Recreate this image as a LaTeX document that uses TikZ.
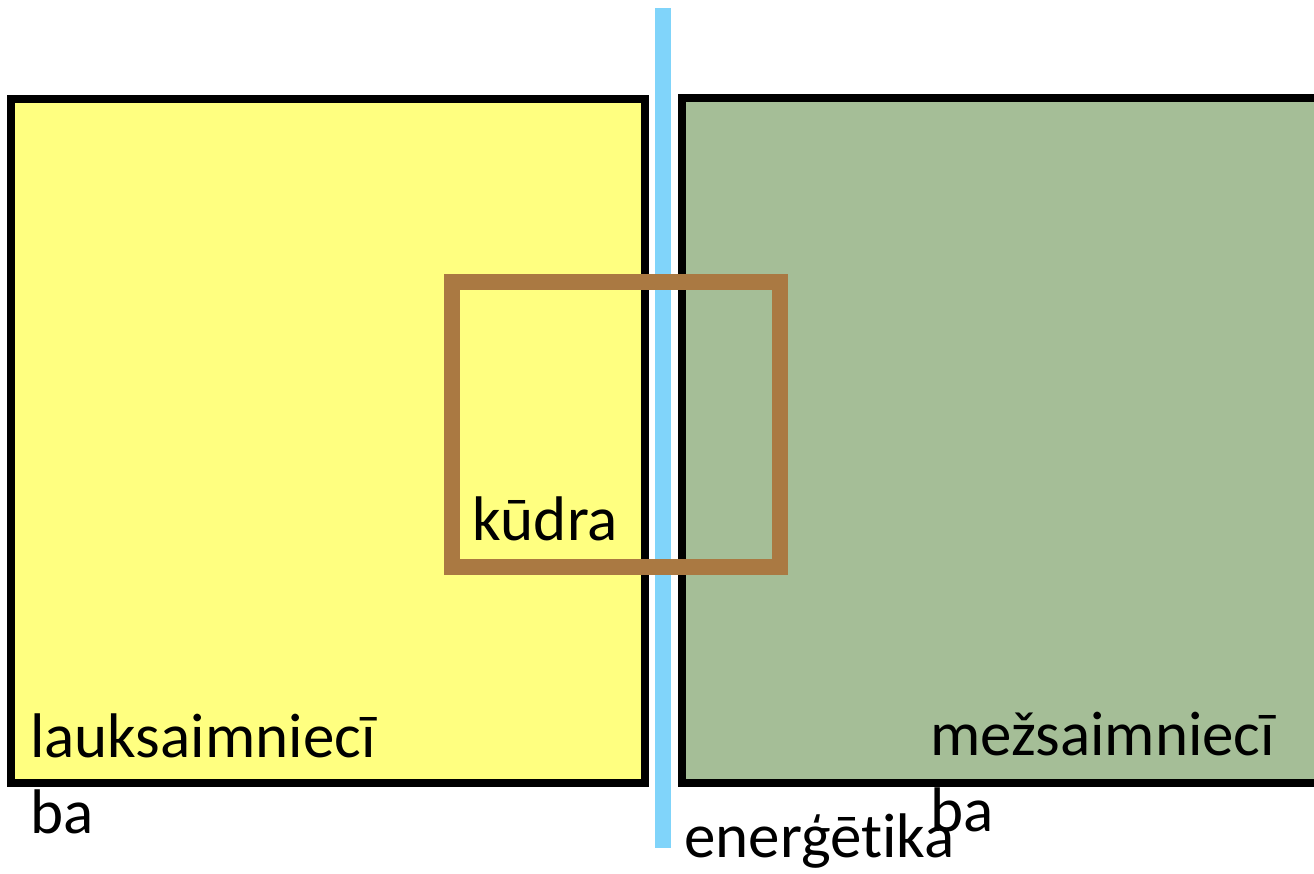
\documentclass[tikz,border=0pt]{standalone}
\usepackage{fontspec}
\setmainfont[Ligatures=NoCommon]{Carlito}
\definecolor{fieldyellow}{RGB}{255,255,128}
\definecolor{forestgreen}{RGB}{165,190,151}
\definecolor{peatbrown}{RGB}{170,121,66}
\definecolor{energyblue}{RGB}{128,212,250}
\tikzset{
  sector/.style={draw=black, line width=8pt},
  label/.style={inner sep=0pt, align=left, font=\fontsize{63}{76}\selectfont}
}
\begin{document}
\begin{tikzpicture}[x=1pt,y=-1pt]
\useasboundingbox (0,0) rectangle (1314,873);
\clip (0,0) rectangle (1314,873);
% the two sectors
\draw[sector, fill=fieldyellow] (11,99) rectangle (645,783);
\draw[sector, fill=forestgreen] (682,98) rectangle (1330,783);
% energy line and peat square
\draw[energyblue, line width=16pt] (663,8) -- (663,848);
\draw[peatbrown, line width=16pt] (452,282) rectangle (780,567);
% labels
\node[label, anchor=base west] (farm) at (30,833) {lauksaimniecī\\ba};
\node[label, anchor=base west] (forest) at (930,831) {mežsaimniecī\\ba};
\node[label, anchor=base west] (energy) at (684,857) {enerģētika};
\node[label, anchor=base west] (peat) at (472,540) {kūdra};
\end{tikzpicture}
\end{document}
